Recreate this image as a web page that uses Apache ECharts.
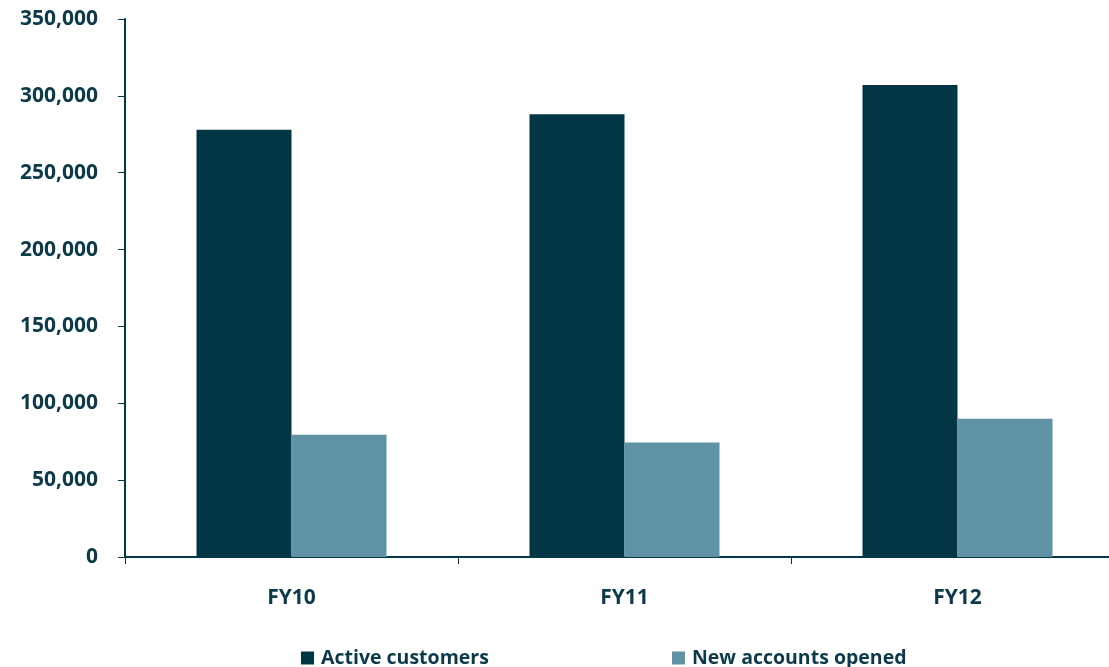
<!DOCTYPE html>
<html><head><meta charset="utf-8">
<script src="https://cdn.jsdelivr.net/npm/echarts@6/dist/echarts.min.js"></script>
<style>html,body{margin:0;padding:0;background:#fff}#c{width:1109px;height:667px}</style>
</head><body><div id="c"></div>
<script>
const categories = ['FY10', 'FY11', 'FY12'];
const activeCustomers = [278000, 288000, 307000];
const newAccounts = [79500, 74500, 90000];
const yTicks = [0, 50000, 100000, 150000, 200000, 250000, 300000, 350000];
const seriesNames = ['Active customers', 'New accounts opened'];

const txt = '#0c3a4b';
const font = '"Open Sans", "Noto Sans", sans-serif';
const chart = echarts.init(document.getElementById('c'));
const legendText = { color: txt, fontFamily: font, fontWeight: 'bold', fontSize: 19.5, padding: [0,0,0,2] };
chart.setOption({
  animation: false,
  grid: { left: 125, width: 999, top: 19, height: 538, containLabel: false, outerBoundsMode: 'none' },
  legend: [
    { data: [seriesNames[0]], left: 296, top: 643, itemWidth: 13, itemHeight: 13, itemGap: 0,
      icon: 'rect', textStyle: legendText },
    { data: [seriesNames[1]], left: 667, top: 643, itemWidth: 13, itemHeight: 13, itemGap: 0,
      icon: 'rect', textStyle: legendText }
  ],
  xAxis: {
    type: 'category', data: categories,
    axisLine: { lineStyle: { color: '#05374a', width: 2 } },
    axisTick: { show: true, length: 7, lineStyle: { color: '#05374a', width: 1 } },
    axisLabel: { color: txt, fontFamily: font, fontWeight: 'bold', fontSize: 21, margin: 31 }
  },
  yAxis: {
    type: 'value', min: 0, max: 350000, interval: 50000,
    splitLine: { show: false },
    axisLine: { show: true, lineStyle: { color: '#05374a', width: 2 } },
    axisTick: { show: true, length: 7, lineStyle: { color: '#05374a', width: 1 } },
    axisLabel: {
      color: txt, fontFamily: font, fontWeight: 'bold', fontSize: 21, margin: 27,
      formatter: v => yTicks.includes(v) ? v.toLocaleString('en-US') : ''
    }
  },
  series: [
    { name: seriesNames[0], type: 'bar', data: activeCustomers, barWidth: 95, barGap: '0%', barCategoryGap: '43%',
      itemStyle: { color: '#023645' } },
    { name: seriesNames[1], type: 'bar', data: newAccounts, barWidth: 95, barGap: '0%',
      itemStyle: { color: '#5e93a5' } }
  ]
});
</script></body></html>
